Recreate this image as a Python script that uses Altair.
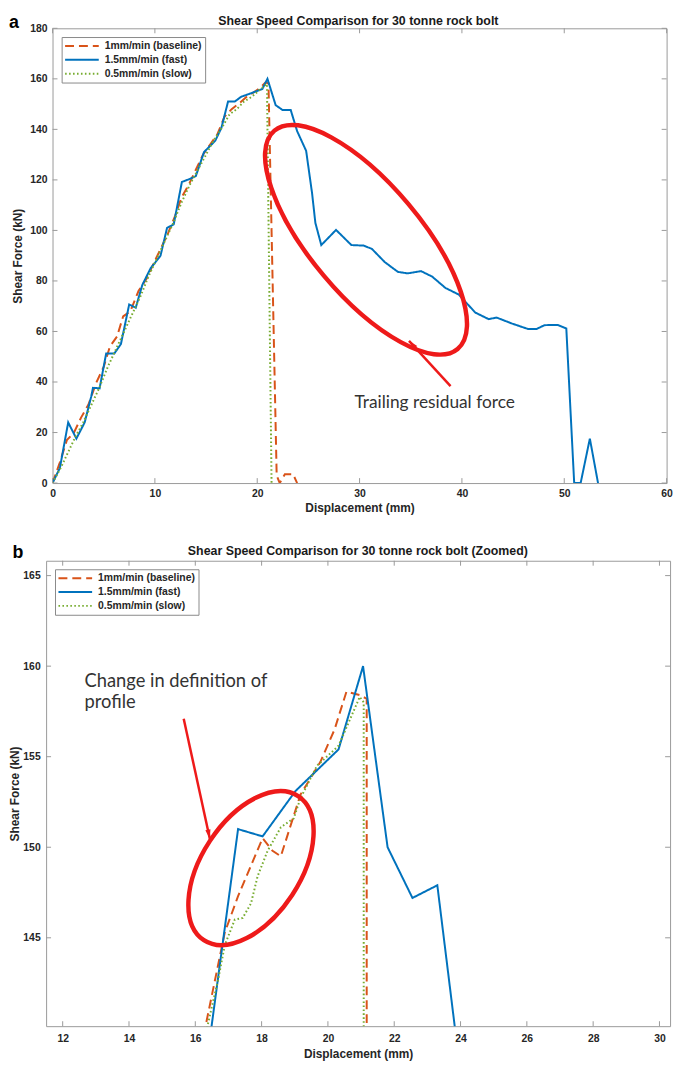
import altair as alt
import pandas as pd

# ---------------- data ----------------
SERIES = ["1mm/min (baseline)", "1.5mm/min (fast)", "0.5mm/min (slow)"]
COLORS = ["#D95319", "#0072BD", "#77AC30"]
DASHES = [[9, 5], [1, 0], [1.6, 2.4]]

# panel a (full test)
A_BASE_X = [0, 0.7, 1.4, 2.1, 2.8, 3.5, 4.3, 5.0, 5.6, 6.3, 6.9, 7.6, 8.4, 9.2, 10.0, 10.6, 11.3, 12.0,
            12.6, 13.3, 14.0, 14.7, 15.4, 16.1, 16.8, 17.5, 18.3, 19.0, 19.6, 20.3, 20.8, 21.1, 21.9,
            22.2, 22.7, 23.5, 23.9]
A_BASE_Y = [0, 8, 17, 20, 26, 31, 40, 46, 54, 58, 66, 68, 76, 81, 88, 93, 99, 106,
            113, 118, 124, 130, 134, 138, 145, 148, 150.5, 153, 154.5, 156.5, 158.5, 158.2, 3,
            0, 3.5, 3.5, 0]
A_FAST_X = [0, 0.72, 1.53, 2.33, 3.14, 3.79, 3.95, 4.6, 5.24, 6.04, 6.68, 7.49, 8.13, 8.77, 9.58, 10.07,
            10.55, 11.19, 11.84, 12.64, 13.3, 14.0, 14.8, 15.9, 16.5, 17.15, 17.8, 18.43, 19.73, 20.5,
            21.0, 21.8, 22.46, 23.27, 23.9, 24.78, 25.36, 25.68, 26.26, 27.7, 29.2, 30.4, 31.2, 32.45,
            33.74, 34.7, 36.0, 37.1, 38.4, 39.7, 41.3, 42.6, 43.4, 44.85, 46.45, 47.3, 48.07, 49.35,
            50.2, 50.97, 51.6, 52.5, 53.3]
A_FAST_Y = [0, 6, 24, 17.6, 24, 34.4, 37.7, 37.5, 51.3, 51.3, 55, 70.7, 69.4, 78.4, 85, 87.5,
            90, 101, 102.4, 119.2, 120.2, 121.5, 131, 135.5, 140.6, 151, 151, 152.9, 154.8, 156,
            160, 149.6, 147.7, 147.7, 139.3, 131.5, 114.7, 103, 94.2, 100.2, 94.2, 94, 92.7, 87.5,
            83.6, 83, 83.9, 81.7, 77.2, 74.6, 67.5, 64.9, 65.5, 63.2, 61, 61, 62.5, 62.6,
            61.2, 0, 0, 17.6, 0]
A_SLOW_X = [0, 0.8, 1.5, 2.2, 3.0, 3.8, 4.6, 5.4, 6.2, 7.0, 7.8, 8.6, 9.4, 10.2, 11.0, 11.8, 12.6,
            13.4, 14.2, 15.0, 15.8, 16.6, 17.3, 18.0, 18.7, 19.5, 20.2, 20.95, 21.4]
A_SLOW_Y = [0, 6, 12, 18, 24, 31, 38, 46, 53, 60, 67, 74, 82, 89, 96, 103, 111,
            118, 124, 130, 136, 141, 146, 148, 151, 153, 155.5, 158, 0]

# panel b (zoomed)
B_BASE_X = [16.25, 16.89, 17.29, 18.03, 18.33, 18.58, 19.17, 19.77, 20.2, 20.56, 20.96, 21.17, 21.17]
B_BASE_Y = [139.6, 145.3, 147.3, 150.5, 149.8, 149.5, 152.9, 154.7, 156.5, 158.6, 158.4, 158.2, 139.0]
B_FAST_X = [16.35, 17.29, 18.03, 19.02, 20.32, 21.06, 21.8, 22.55, 23.3, 23.9]
B_FAST_Y = [138.2, 151.0, 150.6, 153.1, 155.4, 160.0, 150.0, 147.2, 147.9, 139.0]
B_SLOW_X = [16.3, 16.69, 16.89, 17.19, 17.43, 17.68, 17.88, 18.18, 18.58, 18.97, 19.17, 19.67, 20.32,
            20.96, 21.08, 21.08]
B_SLOW_Y = [139.6, 142.7, 144.6, 146.0, 146.1, 146.9, 148.4, 149.8, 151.1, 151.6, 152.7, 154.5, 155.6,
            158.3, 158.0, 139.0]

# axes
A_XDOMAIN = [0, 60]
A_YDOMAIN = [0, 180]
A_XTICKS = [0, 10, 20, 30, 40, 50, 60]
A_YTICKS = [0, 20, 40, 60, 80, 100, 120, 140, 160, 180]
B_XDOMAIN = [11.5, 30.32]
B_YDOMAIN = [140.12, 165.82]
B_XTICKS = [12, 14, 16, 18, 20, 22, 24, 26, 28, 30]
B_YTICKS = [145, 150, 155, 160, 165]

# texts
A_TITLE = "Shear Speed Comparison for 30 tonne rock bolt"
B_TITLE = "Shear Speed Comparison for 30 tonne rock bolt (Zoomed)"
X_TITLE = "Displacement (mm)"
Y_TITLE = "Shear Force (kN)"

# annotations (data coordinates)
A_RING = [30.63, 96.3]
A_ARROW_TAIL = [38.89, 38.4]
A_ARROW_TIP = [34.83, 56.3]
A_NOTE_X = [29.5]
A_NOTE_Y = [31.8]
A_NOTE = ["Trailing residual force"]

B_RING = [17.68, 148.85]
B_ARROW_TAIL = [15.65, 157.1]
B_ARROW_TIP = [16.44, 150.46]
B_NOTE_X = [12.66, 12.66]
B_NOTE_Y = [159.2, 158.0]
B_NOTE = ["Change in definition of", "profile"]

# ---------------- style ----------------
FONT = "Liberation Sans"
NOTE_FONT = "Lato"
AX = "#9a9a9a"
TXT = "#262626"
RED = "#EE1A1A"
K = 0.5523


def ellipse_shape(r):
    kr = K * r
    return (f"M 1 0 C 1 {kr:.4f} {K} {r:.4f} 0 {r:.4f} "
            f"C {-K} {r:.4f} -1 {kr:.4f} -1 0 "
            f"C -1 {-kr:.4f} {-K} {-r:.4f} 0 {-r:.4f} "
            f"C {K} {-r:.4f} 1 {-kr:.4f} 1 0 Z")


HEAD = "M 0 0 L 0.5 1.8 L -0.5 1.8 Z"


def series_frame(xs_ys):
    rows = []
    for name, (xs, ys) in zip(SERIES, xs_ys):
        for i, (x, y) in enumerate(zip(xs, ys)):
            rows.append({"series": name, "i": i, "x": x, "y": y})
    return pd.DataFrame(rows)


def frame_axis(orient, values):
    return alt.Axis(orient=orient, labels=False, title=None, values=values, ticks=False,
                    tickSize=0, labelPadding=0, minExtent=0, maxExtent=0)


def panel(df, xdom, ydom, xticks, yticks, width, height, xrange_, left_off,
          title, title_xy, letter, letter_xy, legend_xy,
          ring, ring_r, ring_size, ring_angle, tail, tip, head_angle,
          note_x, note_y, note_t, note_size,
          xlab_pad, xtitle_pad, ylab_pad, ytitle_pad):
    sc = {"domain": xdom, "nice": False, "zero": False}
    if xrange_ is not None:
        sc["range"] = xrange_
    xscale = alt.Scale(**sc)
    yscale = alt.Scale(domain=ydom, nice=False, zero=False)

    leg = alt.Legend(orient="none", legendX=legend_xy[0], legendY=legend_xy[1], title=None,
                     direction="vertical", fillColor="white", strokeColor="#8a8a8a",
                     padding=2.5, cornerRadius=0, labelFont=FONT, labelFontSize=10.5,
                     labelFontWeight="bold", labelColor=TXT, symbolType="stroke",
                     symbolSize=1156, symbolStrokeWidth=2, clipHeight=13, rowPadding=1,
                     labelOffset=5, labelLimit=300)

    lines = alt.Chart(df).mark_line(strokeWidth=2, clip=True).encode(
        x=alt.X("x:Q", scale=xscale,
                axis=alt.Axis(orient="bottom", values=xticks, title=X_TITLE,
                              labelPadding=xlab_pad, titlePadding=xtitle_pad)),
        y=alt.Y("y:Q", scale=yscale,
                axis=alt.Axis(orient="left", values=yticks, title=Y_TITLE,
                              offset=left_off, labelPadding=ylab_pad, titlePadding=ytitle_pad)),
        color=alt.Color("series:N", scale=alt.Scale(domain=SERIES, range=COLORS), legend=leg),
        strokeDash=alt.StrokeDash("series:N", scale=alt.Scale(domain=SERIES, range=DASHES), legend=leg),
        order="i:Q",
    )

    tx = pd.DataFrame({"v": xticks})
    ty = pd.DataFrame({"v": yticks})
    x0 = -left_off
    bottom_ticks = alt.Chart(tx).mark_rule(color=AX, strokeWidth=1).encode(
        x=alt.X("v:Q", scale=xscale, axis=None), y=alt.value(height), y2=alt.value(height - 5))
    top_ticks = alt.Chart(tx).mark_rule(color=AX, strokeWidth=1).encode(
        x=alt.X("v:Q", scale=xscale, axis=frame_axis("top", xticks)),
        y=alt.value(0), y2=alt.value(5))
    left_ticks = alt.Chart(ty).mark_rule(color=AX, strokeWidth=1).encode(
        y=alt.Y("v:Q", scale=yscale, axis=None), x=alt.value(x0), x2=alt.value(x0 + 5))
    right_ticks = alt.Chart(ty).mark_rule(color=AX, strokeWidth=1).encode(
        y=alt.Y("v:Q", scale=yscale, axis=frame_axis("right", yticks)),
        x=alt.value(width), x2=alt.value(width - 5))

    ring_layer = alt.Chart(pd.DataFrame({"x": [ring[0]], "y": [ring[1]]})).mark_point(
        shape=ellipse_shape(ring_r), size=ring_size, angle=ring_angle, filled=False,
        color=RED, stroke=RED, strokeWidth=4.5, opacity=1).encode(
        x=alt.X("x:Q", scale=xscale, axis=None), y=alt.Y("y:Q", scale=yscale, axis=None))

    arrow = alt.Chart(pd.DataFrame({"x": [tail[0]], "y": [tail[1]],
                                    "x2": [tip[0]], "y2": [tip[1]]})).mark_rule(
        color=RED, strokeWidth=2.5).encode(
        x=alt.X("x:Q", scale=xscale, axis=None), y=alt.Y("y:Q", scale=yscale, axis=None),
        x2="x2:Q", y2="y2:Q")
    head = alt.Chart(pd.DataFrame({"x": [tip[0]], "y": [tip[1]]})).mark_point(
        shape=HEAD, size=110, angle=head_angle, filled=True, color=RED, fill=RED,
        opacity=1, strokeWidth=0).encode(
        x=alt.X("x:Q", scale=xscale, axis=None), y=alt.Y("y:Q", scale=yscale, axis=None))

    notes = alt.Chart(pd.DataFrame({"x": note_x, "y": note_y, "t": note_t})).mark_text(
        font=NOTE_FONT, fontSize=note_size, align="left", baseline="middle", color="#333333").encode(
        x=alt.X("x:Q", scale=xscale, axis=None), y=alt.Y("y:Q", scale=yscale, axis=None),
        text="t:N")

    title_layer = alt.Chart(pd.DataFrame({"t": [title]})).mark_text(
        font=FONT, fontSize=12.5, fontWeight="bold", align="center", baseline="alphabetic",
        color="#1a1a1a").encode(x=alt.value(title_xy[0]), y=alt.value(title_xy[1]), text="t:N")

    letter_layer = alt.Chart(pd.DataFrame({"t": [letter]})).mark_text(
        font=FONT, fontSize=18, fontWeight="bold", align="left", baseline="alphabetic",
        color="black").encode(x=alt.value(letter_xy[0]), y=alt.value(letter_xy[1]), text="t:N")

    return alt.layer(lines, bottom_ticks, top_ticks, left_ticks, right_ticks,
                     ring_layer, arrow, head, notes, title_layer, letter_layer).resolve_axis(
        x="independent", y="independent").properties(width=width, height=height)


df_a = series_frame([(A_BASE_X, A_BASE_Y), (A_FAST_X, A_FAST_Y), (A_SLOW_X, A_SLOW_Y)])
df_b = series_frame([(B_BASE_X, B_BASE_Y), (B_FAST_X, B_FAST_Y), (B_SLOW_X, B_SLOW_Y)])

pa = panel(df_a, A_XDOMAIN, A_YDOMAIN, A_XTICKS, A_YTICKS, 620.5, 459.5, None, 0,
           A_TITLE, (309, -3.5), "a", (-44, -0.5), (9.2, 8.8),
           A_RING, 0.389, 82944, 50, A_ARROW_TAIL, A_ARROW_TIP, 317.6,
           A_NOTE_X, A_NOTE_Y, A_NOTE, 17.5,
           6, 3.5, 5.5, 5)
pb = panel(df_b, B_XDOMAIN, B_YDOMAIN, B_XTICKS, B_YTICKS, 624, 470.3, [-6.5, 624], 6.5,
           B_TITLE, (308.5, -5.7), "b", (-40.5, -2.7), (2.5, 8.6),
           B_RING, 0.572, 30276, 303.2, B_ARROW_TAIL, B_ARROW_TIP, 167.6,
           B_NOTE_X, B_NOTE_Y, B_NOTE, 18.5,
           7, 5, 6, 1.5)

chart = alt.vconcat(pa, pb, spacing=30).resolve_scale(
    x="independent", y="independent", color="independent", strokeDash="independent").resolve_legend(
    color="independent", strokeDash="independent").properties(
    padding=0, background="white").configure_view(strokeWidth=0).configure_axis(
    labelFont=FONT, titleFont=FONT, labelFontSize=10.5, labelFontWeight="bold",
    titleFontSize=12, titleFontWeight="bold", labelColor=TXT, titleColor=TXT,
    domainColor=AX, domainWidth=1, grid=False, ticks=False, tickSize=0,
    labelFlush=False, labelOverlap=False)

chart.save("out.html", embed_options={"renderer": "svg", "actions": False})
